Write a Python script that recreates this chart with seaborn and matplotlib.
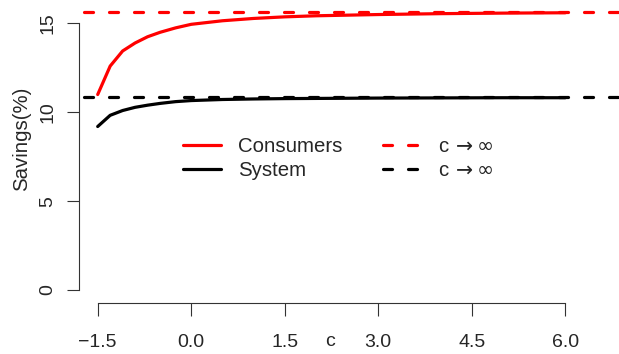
import pandas as pd
import matplotlib
matplotlib.use('Agg')
import matplotlib.pyplot as plt
from matplotlib.lines import Line2D
import seaborn as sns

# values
c_values = [-1.5, -1.3, -1.1, -0.9, -0.7, -0.5, -0.25, 0.0, 0.5, 1.0, 1.5, 2.0, 3.0, 4.0, 5.0, 6.0]
consumers = [11.0, 12.6, 13.45, 13.9, 14.25, 14.5, 14.75, 14.95, 15.15, 15.28, 15.37, 15.43, 15.5, 15.55, 15.58, 15.6]
system = [9.2, 9.83, 10.1, 10.28, 10.4, 10.5, 10.6, 10.66, 10.72, 10.75, 10.77, 10.78, 10.8, 10.81, 10.82, 10.82]
limit_consumers = 15.67
limit_system = 10.84
x_ticks = [-1.5, 0.0, 1.5, 3.0, 4.5, 6.0]
x_tick_labels = ['\u22121.5', '0.0', '1.5', '3.0', '4.5', '6.0']
y_ticks = [0, 5, 10, 15]

df = pd.DataFrame({
    'c': c_values * 2,
    'savings': consumers + system,
    'group': ['Consumers'] * len(c_values) + ['System'] * len(c_values),
})

sns.set_style('white')
plt.rcParams['font.family'] = ['Liberation Sans', 'DejaVu Sans']
plt.rcParams['mathtext.fontset'] = 'dejavusans'
plt.rcParams['lines.scale_dashes'] = False
fs_tick = 14
fs = 14.7
dash = (6.5, 11.5)

fig = plt.figure(figsize=(6.19, 3.54), dpi=100)
ax = fig.add_axes([79 / 619, 51 / 354, 505 / 619, 300.9 / 354])

sns.lineplot(data=df, x='c', y='savings', hue='group',
             palette={'Consumers': '#ff0000', 'System': 'black'},
             linewidth=2.3, legend=False, ax=ax, solid_capstyle='round')

# asymptotes, running past the plot region like the original
for val, col in [(limit_consumers, '#ff0000'), (limit_system, 'black')]:
    ax.axhline(val, xmin=0.01, xmax=1.08, color=col, linewidth=2.3,
               dashes=dash, dash_capstyle='round', clip_on=False)

ax.set_xlim(-1.8, 6.3)
ax.set_ylim(-0.73, 16.2)

# R-style axes
sns.despine(ax=ax)
ax.spines['left'].set_bounds(0, 15)
ax.spines['bottom'].set_bounds(-1.5, 6.0)
for s in ['left', 'bottom']:
    ax.spines[s].set_color('#333333')
    ax.spines[s].set_linewidth(0.8)
ax.set_xticks(x_ticks)
ax.set_xticklabels(x_tick_labels)
ax.set_yticks(y_ticks)
ax.set_yticklabels([str(v) for v in y_ticks], rotation=90, va='center')
ax.tick_params(axis='both', direction='out', length=9, width=0.8,
               color='#333333', labelsize=fs_tick, left=True, bottom=True)
ax.tick_params(axis='x', pad=13)
ax.tick_params(axis='y', pad=7.5)
ax.set_xlabel('')
ax.set_ylabel('')

fig.text(22 / 619, (354 - 139) / 354, 'Savings(%)', rotation=90,
         ha='center', va='center', fontsize=fs)
fig.text(330.5 / 619, 8 / 354, 'c', ha='center', va='baseline', fontsize=fs_tick)

handles = [
    Line2D([], [], color='#ff0000', linewidth=2.3),
    Line2D([], [], color='black', linewidth=2.3),
    Line2D([], [], color='#ff0000', linewidth=2.3, dashes=dash, dash_capstyle='round'),
    Line2D([], [], color='black', linewidth=2.3, dashes=dash, dash_capstyle='round'),
]
labels = ['Consumers', 'System', 'c$\\,\\rightarrow\\infty$', 'c$\\,\\rightarrow\\infty$']
fig.legend(handles, labels, ncol=2, frameon=False, fontsize=fs,
           loc='upper left', bbox_to_anchor=(183 / 619, (354 - 137) / 354),
           borderpad=0, borderaxespad=0, handlelength=1.85, handletextpad=0.85,
           columnspacing=2.0, labelspacing=0.25)

fig.savefig('out.png', dpi=100)
